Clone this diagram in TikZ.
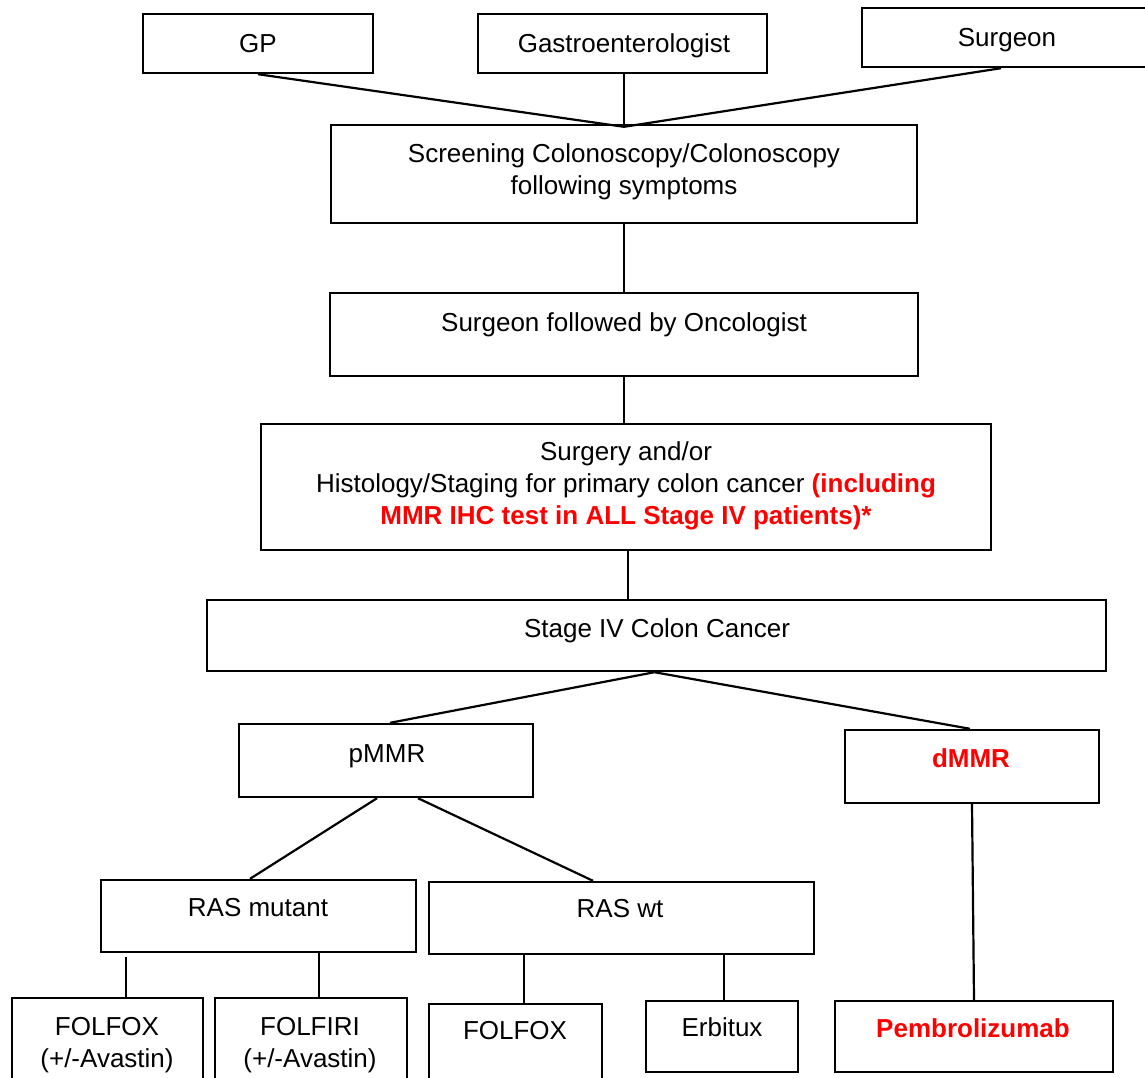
\documentclass[tikz,border=0pt]{standalone}
\usepackage{fontspec}
\setmainfont{Liberation Sans}
\definecolor{hired}{RGB}{255,0,0}
\begin{document}
\begin{tikzpicture}[x=1pt,y=-1pt,
  box/.style={draw=black, line width=2.4pt, inner sep=0pt, fill=none},
  txt/.style={font=\fontsize{26}{32}\selectfont, text height=18.7pt, text depth=0pt, inner sep=0pt, align=center},
  conn/.style={draw=black, line width=2.2pt}]
\useasboundingbox (0,0) rectangle (1145,1077);
\fill[white] (0,0) rectangle (1145,1077);

% boxes
\node[box, minimum width=230pt, minimum height=59pt] (gp) at (258,43.5) {};
\node[box, minimum width=289pt, minimum height=59pt] (gastro) at (622.5,43.5) {};
\node[box, minimum width=288pt, minimum height=59pt] (surg) at (1006,37.5) {};
\node[box, minimum width=586pt, minimum height=98pt] (scr) at (624,174) {};
\node[box, minimum width=588pt, minimum height=83pt] (sfo) at (624,334.5) {};
\node[box, minimum width=730pt, minimum height=126pt] (surgery) at (626,487) {};
\node[box, minimum width=899pt, minimum height=71pt] (stage) at (656.5,635.5) {};
\node[box, minimum width=294pt, minimum height=73pt] (pmmr) at (386,760.5) {};
\node[box, minimum width=254pt, minimum height=73pt] (dmmr) at (972,766.5) {};
\node[box, minimum width=315pt, minimum height=72pt] (rasm) at (258.5,916) {};
\node[box, minimum width=385pt, minimum height=72pt] (rasw) at (621.5,918) {};
\node[box, minimum width=191pt, minimum height=97pt] (f1) at (107.5,1046.5) {};
\node[box, minimum width=192pt, minimum height=97pt] (f2) at (311,1046.5) {};
\node[box, minimum width=173pt, minimum height=91pt] (f3) at (515.5,1049.5) {};
\node[box, minimum width=152pt, minimum height=71pt] (erb) at (722,1036.5) {};
\node[box, minimum width=278pt, minimum height=71pt] (pem) at (974,1036.5) {};

% texts (multi-line nodes are placed by their last line)
\node[txt] (gpT) at (258,43) {GP};
\node[txt] (gastroT) at (624,43) {Gastroenterologist};
\node[txt] (surgT) at (1007,37) {Surgeon};
\node[txt] (scrT) at (624,185) {Screening Colonoscopy/Colonoscopy\\following symptoms};
\node[txt] (sfoT) at (624,322) {Surgeon followed by Oncologist};
\node[txt] (surgeryT) at (626,515) {Surgery and/or\\Histology/Staging for primary colon cancer {\color{hired}\bfseries(including}\\{\color{hired}\bfseries MMR IHC test in ALL Stage IV patients)*}};
\node[txt] (stageT) at (657,628) {Stage IV Colon Cancer};
\node[txt] (pmmrT) at (387,753) {pMMR};
\node[txt, text=hired, font=\fontsize{26}{32}\selectfont\bfseries] (dmmrT) at (971,758) {dMMR};
\node[txt] (rasmT) at (258,907) {RAS mutant};
\node[txt] (raswT) at (620,908) {RAS wt};
\node[txt] (f1T) at (107,1058) {FOLFOX\\(+/-Avastin)};
\node[txt] (f2T) at (310,1058) {FOLFIRI\\(+/-Avastin)};
\node[txt] (f3T) at (515,1030) {FOLFOX};
\node[txt] (erbT) at (722,1027) {Erbitux};
\node[txt, text=hired, font=\fontsize{26}{32}\selectfont\bfseries] (pemT) at (973,1028) {Pembrolizumab};

% connectors
\draw[conn] (gp.south) -- ([yshift=-3pt]scr.north);
\draw[conn] ([xshift=1.5pt]gastro.south) -- ([yshift=-3pt]scr.north);
\draw[conn] ([xshift=-5pt]surg.south) -- ([yshift=-3pt]scr.north);
\draw[conn] (scr.south) -- (sfo.north);
\draw[conn] (sfo.south) -- (sfo.south |- surgery.north);
\draw[conn] ([xshift=2pt]surgery.south) -- ([xshift=2pt]surgery.south |- stage.north);
\draw[conn] ([xshift=-2pt]stage.south) -- ([xshift=4pt]pmmr.north);
\draw[conn] ([xshift=-2pt]stage.south) -- ([xshift=-2pt]dmmr.north);
\draw[conn] ([xshift=-9pt]pmmr.south) -- ([xshift=-8.5pt]rasm.north);
\draw[conn] ([xshift=32pt]pmmr.south) -- ([xshift=-28.5pt]rasw.north);
\draw[conn] ([xshift=18.5pt]f1.north) -- ([xshift=18.5pt,yshift=-4pt]f1.north |- rasm.south);
\draw[conn] ([xshift=8pt]f2.north) -- ([xshift=8pt]f2.north |- rasm.south);
\draw[conn] ([xshift=8.5pt]f3.north) -- ([xshift=8.5pt]f3.north |- rasw.south);
\draw[conn] ([xshift=2pt]erb.north) -- ([xshift=2pt]erb.north |- rasw.south);
\draw[conn] (dmmr.south) -- (pem.north);
\end{tikzpicture}
\end{document}
